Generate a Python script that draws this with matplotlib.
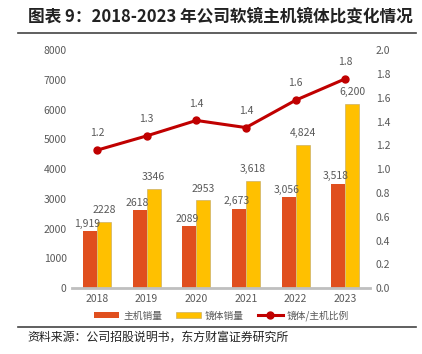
import matplotlib
matplotlib.use("Agg")
import matplotlib.pyplot as plt
import numpy as np

plt.rcParams['font.family'] = ['Noto Sans CJK SC', 'DejaVu Sans']

years = ["2018", "2019", "2020", "2021", "2022", "2023"]
host_sales = [1919, 2618, 2089, 2673, 3056, 3518]
lens_sales = [2228, 3346, 2953, 3618, 4824, 6200]
ratio = [1.16, 1.28, 1.41, 1.35, 1.58, 1.76]
host_labels = ["1,919", "2618", "2089", "2,673", "3,056", "3,518"]
lens_labels = ["2228", "3346", "2953", "3,618", "4,824", "6,200"]
ratio_labels = ["1.2", "1.3", "1.4", "1.4", "1.6", "1.8"]

RED = "#E04F1E"
YELLOW = "#FFC000"
LINE = "#C00000"
GRAY = "#595959"

fig = plt.figure(figsize=(4.22, 3.54), dpi=100)
ax = fig.add_axes([0.171, 0.186, 0.706, 0.672])
ax2 = ax.twinx()

x = np.arange(len(years))
w = 0.28
ax.bar(x - w / 2, host_sales, w, color=RED, label="主机销量", zorder=2)
ax.bar(x + w / 2, lens_sales, w, color=YELLOW, edgecolor="#BFA560", linewidth=0.4,
       label="镜体销量", zorder=2)

for i in range(len(years)):
    ax.text(x[i] - w / 2 - 0.05, host_sales[i] + 80, host_labels[i], ha="center", va="bottom",
            fontsize=7.5, color=GRAY)
    ax.text(x[i] + w / 2, lens_sales[i] + 220, lens_labels[i], ha="center", va="bottom",
            fontsize=7.5, color=GRAY)

ax2.plot(x, ratio, color=LINE, lw=2.2, marker="o", ms=5, label="镜体/主机比例", zorder=3)
for i in range(len(years)):
    ax2.text(x[i], ratio[i] + 0.1, ratio_labels[i], ha="center", va="bottom",
             fontsize=7.5, color=GRAY)

ax.set_xlim(-0.5, len(years) - 0.5)
ax.set_ylim(0, 8000)
ax.set_yticks(range(0, 8001, 1000))
ax2.set_ylim(0, 2.0)
ax2.set_yticks(np.arange(0, 2.01, 0.2))
ax2.set_yticklabels([f"{v:.1f}" for v in np.arange(0, 2.01, 0.2)])
ax.set_xticks(x)
ax.set_xticklabels(years)

for a in (ax, ax2):
    for s in ("top", "left", "right"):
        a.spines[s].set_visible(False)
    a.spines["bottom"].set_color("#BFBFBF")
    a.spines["bottom"].set_linewidth(2)
    a.tick_params(length=0, labelsize=7.5, labelcolor=GRAY, pad=4)
ax2.spines["bottom"].set_visible(False)

h1, l1 = ax.get_legend_handles_labels()
h2, l2 = ax2.get_legend_handles_labels()
fig.legend(h1 + h2, l1 + l2, loc="center", bbox_to_anchor=(0.525, 0.108), ncol=3,
           frameon=False, fontsize=7, labelcolor=GRAY, handlelength=2.6,
           handleheight=0.6, columnspacing=1.4, handletextpad=0.4)

fig.text(0.066, 0.955, "图表 9：2018-2023 年公司软镜主机镜体比变化情况", fontsize=12,
         fontweight="bold", va="center", ha="left", color="#222222")
fig.add_artist(plt.Line2D([0.043, 0.986], [0.907, 0.907], color="#444444", lw=1.2))
fig.add_artist(plt.Line2D([0.043, 0.986], [0.075, 0.075], color="#444444", lw=1.2))
fig.text(0.064, 0.048, "资料来源：公司招股说明书，东方财富证券研究所", fontsize=8.6,
         va="center", ha="left", color="#222222")

fig.savefig("out.png", dpi=100)
